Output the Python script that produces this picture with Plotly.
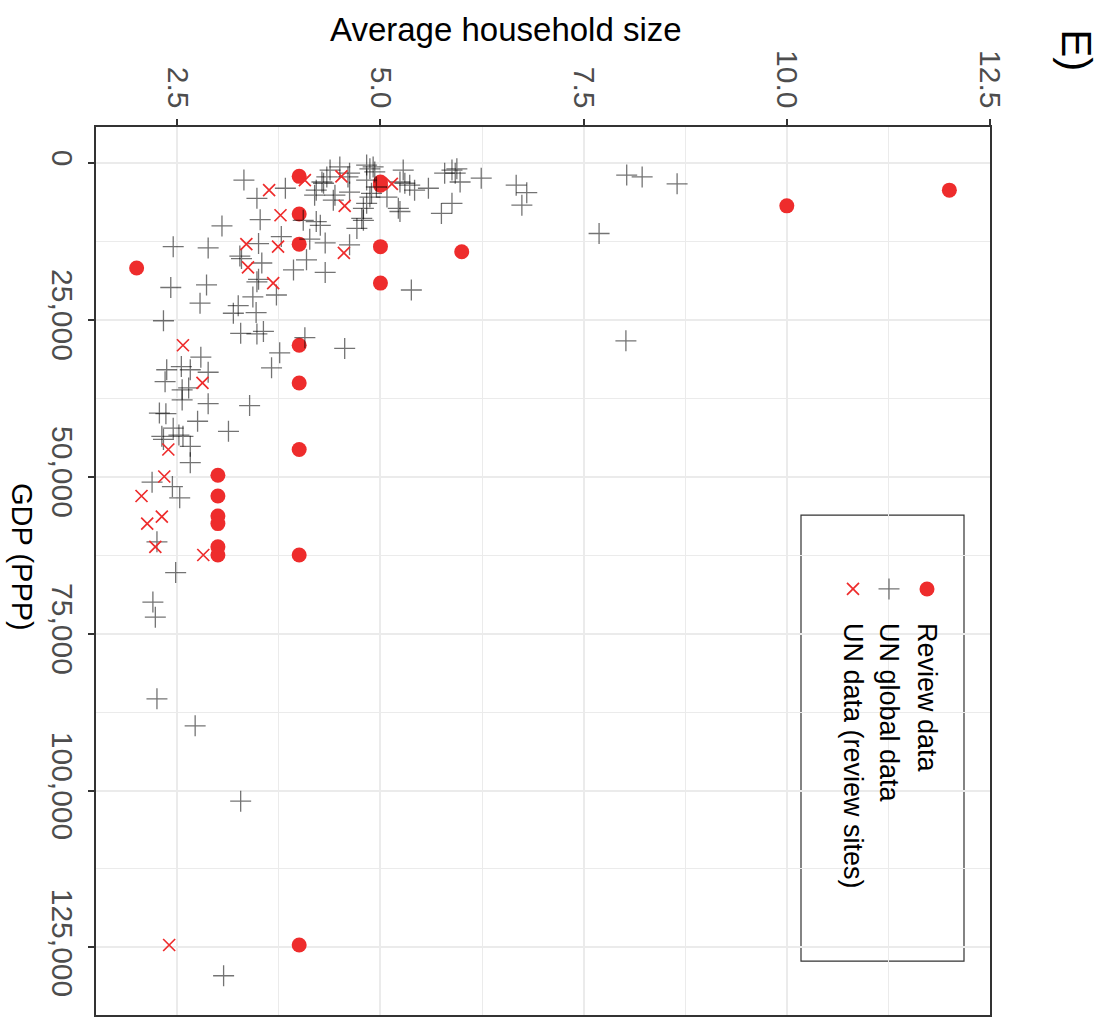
import plotly.graph_objects as go

# ---------------- data ----------------
review_hh = [12.0, 10.0, 4.0, 4.0, 4.0, 5.0, 5.0, 5.0, 5.0, 6.0, 2.0,
             4.0, 4.0, 4.0, 4.0, 4.0, 3.0, 3.0, 3.0, 3.0, 3.0, 3.0]
review_gdp = [4400, 6900, 2200, 8200, 13000, 3100, 3600, 13400, 19200, 14200, 16800,
              29100, 35100, 45700, 62500, 124600, 49800, 53100, 56300, 57500, 61200, 62500]

un_hh = [3.32, 3.48, 3.83, 3.05, 3.52, 4.05, 4.21, 4.26, 4.19, 4.21, 4.28, 4.30, 4.44, 4.42,
         4.38, 4.34, 4.50, 4.60, 4.62, 4.62, 4.83, 4.87, 4.91, 4.93, 4.83, 4.87, 4.89, 4.79,
         4.83, 4.77, 4.79, 4.71, 4.95, 5.08, 5.28, 5.24, 5.30, 5.36, 5.42, 5.59, 5.22, 5.24,
         5.79, 5.88, 5.92, 5.94, 5.98, 6.24, 5.88, 5.75, 6.67, 6.80, 6.74, 8.03, 8.22, 8.65,
         7.69, 3.78,
         2.45, 2.88, 3.27, 3.29, 3.50, 3.54, 3.48, 3.50, 2.86, 2.42, 3.72, 3.43, 2.78, 3.25,
         3.19, 3.47, 3.93, 4.09, 4.13, 4.32, 4.32, 4.62, 5.38, 8.02, 2.33, 3.28, 3.48, 3.56,
         4.07, 4.56, 3.76, 3.66, 2.79, 2.37, 2.55, 2.66, 2.88,
         2.35, 2.56, 2.64, 2.56, 2.88, 3.39, 2.28, 2.36, 2.75, 3.13, 2.45, 2.52, 2.57, 2.31,
         2.33, 2.66, 2.66, 2.19, 2.44, 2.53, 2.25, 2.48, 2.20, 2.23, 2.25, 2.72, 3.28, 3.07]
un_gdp = [2800, 5700, 4100, 10100, 9100, 9200, 9400, 10000, 5200, 4400, 3100, 3300, 5200, 6000,
          1200, 2300, 700, 2300, 1700, 4700, 400, 1000, 700, 1500, 2800, 5500, 4900, 7300,
          6500, 8900, 9200, 10500, 3900, 5500, 1200, 3100, 3300, 3600, 4400, 4100, 7300, 7800,
          1700, 1200, 1700, 1000, 3100, 2500, 6500, 8100, 3600, 4800, 6800, 2000, 2300, 3400,
          11300, 11800,
          13400, 13600, 14900, 15300, 12900, 16000, 19000, 18600, 19500, 19900, 21100, 21400, 22400, 22800,
          24000, 23900, 17100, 15500, 12200, 12800, 17500, 13100, 20300, 28400, 25200, 27200, 27300, 26900,
          27900, 29600, 30300, 32700, 31000, 33000, 32500, 33000, 33400,
          34900, 36200, 35900, 37800, 38400, 38700, 39900, 40000, 41200, 42800, 42300, 43400, 43600, 43600,
          44100, 45200, 47800, 50900, 51600, 53400, 60400, 65300, 70000, 72400, 85400, 89700, 101700, 129500]

site_hh = [4.07, 4.52, 5.14, 3.63, 4.56, 3.77, 3.35, 3.74, 4.55, 3.37, 3.68, 2.57, 2.81,
           2.39, 2.34, 2.06, 2.31, 2.13, 2.23, 2.82, 2.40]
site_gdp = [2800, 2200, 3400, 4400, 6900, 8400, 13000, 13400, 14400, 16700, 19200, 29100, 35100,
            45700, 50000, 53100, 56400, 57500, 61200, 62500, 124600]

x_ticks = [2.5, 5.0, 7.5, 10.0, 12.5]
x_ticktext = ["2.5", "5.0", "7.5", "10.0", "12.5"]
y_ticks = [0, 25000, 50000, 75000, 100000, 125000]
y_ticktext = ["0", "25,000", "50,000", "75,000", "100,000", "125,000"]
legend_labels = ["Review data", "UN global data", "UN data (review sites)"]

# ---------------- style ----------------
RED = "#ee2c2c"
GRAY = "rgba(0,0,0,0.55)"
FONT = "Liberation Sans, Arial, sans-serif"
W, H = 1110, 1029
L, R, T, B = 96, 990, 127, 1017


def px2x(px):
    return (px - L) / (R - L)


def py2y(py):
    return (B - py) / (B - T)


fig = go.Figure()
fig.add_trace(go.Scatter(x=review_hh, y=review_gdp, mode="markers", name=legend_labels[0],
                         marker=dict(color=RED, size=15, symbol="circle", line=dict(width=0)),
                         showlegend=False))
fig.add_trace(go.Scatter(x=un_hh, y=un_gdp, mode="markers", name=legend_labels[1],
                         marker=dict(color=GRAY, size=15, symbol="cross-thin",
                                     line=dict(width=1.3, color=GRAY)),
                         showlegend=False))
fig.add_trace(go.Scatter(x=site_hh, y=site_gdp, mode="markers", name=legend_labels[2],
                         marker=dict(color=RED, size=12, symbol="x-thin",
                                     line=dict(width=1.7, color=RED)),
                         showlegend=False))

# rotated legend drawn manually (paper-space overlay axes)
leg_x = [px2x(927), px2x(889), px2x(853)]
leg_y = [py2y(590)] * 3
fig.add_trace(go.Scatter(x=[leg_x[0]], y=[leg_y[0]], xaxis="x2", yaxis="y2", mode="markers",
                         marker=dict(color=RED, size=15, symbol="circle"), showlegend=False,
                         hoverinfo="skip"))
fig.add_trace(go.Scatter(x=[leg_x[1]], y=[leg_y[1]], xaxis="x2", yaxis="y2", mode="markers",
                         marker=dict(color=GRAY, size=15, symbol="cross-thin",
                                     line=dict(width=1.3, color=GRAY)), showlegend=False,
                         hoverinfo="skip"))
fig.add_trace(go.Scatter(x=[leg_x[2]], y=[leg_y[2]], xaxis="x2", yaxis="y2", mode="markers",
                         marker=dict(color=RED, size=12, symbol="x-thin",
                                     line=dict(width=1.7, color=RED)), showlegend=False,
                         hoverinfo="skip"))

annotations = []
for lx, lab in zip(leg_x, legend_labels):
    annotations.append(dict(x=lx, y=py2y(622), xref="paper", yref="paper", text=lab,
                            textangle=90, showarrow=False, xanchor="center", yanchor="top",
                            font=dict(size=27, color="black", family=FONT)))
annotations.append(dict(x=px2x(506), y=py2y(29), xref="paper", yref="paper",
                        text="Average household size", showarrow=False,
                        xanchor="center", yanchor="middle",
                        font=dict(size=33, color="black", family=FONT)))
annotations.append(dict(x=px2x(22), y=py2y(558), xref="paper", yref="paper",
                        text="GDP (PPP)", textangle=90, showarrow=False,
                        xanchor="center", yanchor="middle",
                        font=dict(size=29, color="black", family=FONT)))
annotations.append(dict(x=px2x(1077), y=py2y(50), xref="paper", yref="paper",
                        text="E)", textangle=90, showarrow=False,
                        xanchor="center", yanchor="middle",
                        font=dict(size=42, color="black", family=FONT)))

shapes = [dict(type="rect", xref="paper", yref="paper",
               x0=px2x(801), x1=px2x(964), y0=py2y(963), y1=py2y(516),
               line=dict(color="#333333", width=1.2), fillcolor="white", layer="below")]

grid = "#ebebeb"
fig.update_layout(
    width=W, height=H,
    margin=dict(l=L, r=W - R, t=T, b=H - B, pad=0),
    paper_bgcolor="white", plot_bgcolor="white",
    font=dict(family=FONT),
    showlegend=False,
    annotations=annotations,
    shapes=shapes,
    xaxis=dict(side="top", range=[1.5, 12.5], tickvals=x_ticks, ticktext=x_ticktext,
               tickangle=90, tickfont=dict(size=30, color="#4d4d4d", family=FONT),
               ticks="outside", ticklen=6, tickwidth=2, tickcolor="#333333",
               showline=True, mirror=True, linecolor="#333333", linewidth=2,
               showgrid=True, gridcolor=grid, gridwidth=2.2, zeroline=False,
               minor=dict(tickvals=[3.75, 6.25, 8.75, 11.25], showgrid=True,
                          gridcolor=grid, gridwidth=1.1, ticks="")),
    yaxis=dict(range=[135750, -5656], tickvals=y_ticks, ticktext=y_ticktext,
               tickangle=90, tickfont=dict(size=30, color="#4d4d4d", family=FONT),
               ticks="outside", ticklen=6, tickwidth=2, tickcolor="#333333",
               showline=True, mirror=True, linecolor="#333333", linewidth=2,
               showgrid=True, gridcolor=grid, gridwidth=2.2, zeroline=False,
               minor=dict(tickvals=[12500, 37500, 62500, 87500, 112500], showgrid=True,
                          gridcolor=grid, gridwidth=1.1, ticks="")),
    xaxis2=dict(overlaying="x", range=[0, 1], visible=False, domain=[0, 1]),
    yaxis2=dict(overlaying="y", range=[0, 1], visible=False, domain=[0, 1]),
)

fig.write_html("out.html")
